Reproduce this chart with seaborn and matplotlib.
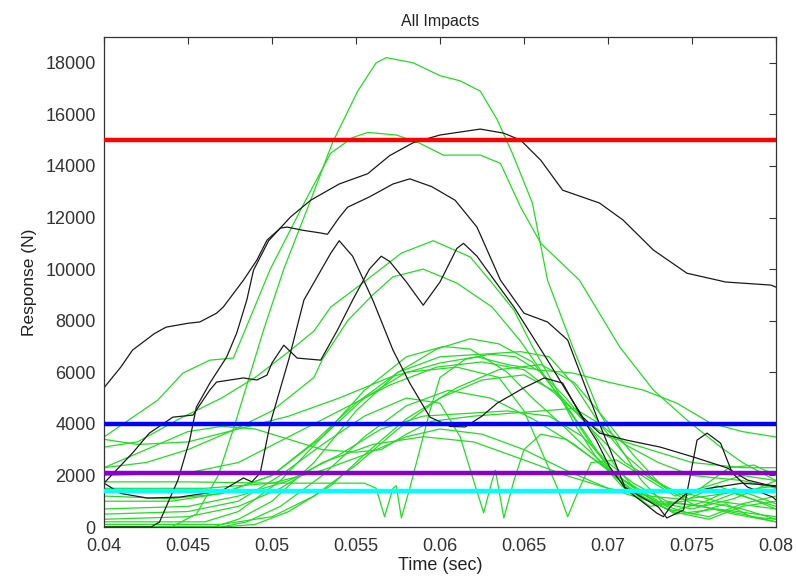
import matplotlib
matplotlib.use("Agg")
import matplotlib.pyplot as plt
import seaborn as sns
import pandas as pd

# ---------------- data ----------------
# black traces
b1_t = [0.040, 0.0428, 0.0433, 0.0444, 0.0451, 0.0455, 0.0463, 0.0473, 0.0479, 0.0485, 0.0489, 0.0498, 0.0511, 0.0523, 0.0540, 0.0557, 0.0570, 0.0584, 0.0600, 0.0624, 0.0638, 0.0648, 0.0660, 0.0673, 0.0695, 0.0709, 0.0727, 0.0747, 0.0770, 0.0797, 0.0800]
b1_y = [0, 0, 190, 1820, 3370, 4650, 5580, 6590, 7520, 8800, 9960, 11100, 12020, 12670, 13300, 13700, 14400, 14900, 15200, 15430, 15270, 15000, 14220, 13060, 12560, 11900, 10740, 9840, 9500, 9380, 9300]

b2_t = [0.040, 0.041, 0.0417, 0.043, 0.0437, 0.045, 0.0457, 0.0467, 0.0471, 0.0483, 0.0491, 0.0497, 0.0505, 0.0509, 0.0518, 0.0529, 0.0533, 0.0540, 0.0545, 0.0558, 0.0572, 0.0582, 0.0595, 0.0609, 0.0622, 0.0636, 0.0650, 0.0664, 0.0676, 0.0685, 0.0694, 0.0702, 0.0710, 0.0720, 0.0730, 0.0735, 0.0745, 0.0749, 0.0753, 0.0759, 0.0767, 0.0774, 0.0783, 0.0798, 0.0800]
b2_y = [5400, 6200, 6860, 7500, 7750, 7900, 7950, 8290, 8530, 9570, 10350, 11120, 11590, 11630, 11510, 11400, 11350, 12000, 12400, 12800, 13300, 13500, 13200, 12670, 11630, 9570, 8290, 7950, 7250, 5700, 4150, 2870, 1550, 1160, 775, 350, 660, 2000, 3370, 3640, 3250, 2090, 1550, 1160, 1050]

b3_t = [0.040, 0.0417, 0.0427, 0.0441, 0.0453, 0.0463, 0.0467, 0.0483, 0.0491, 0.0497, 0.0500, 0.0507, 0.0515, 0.0529, 0.0539, 0.0548, 0.0558, 0.0565, 0.0570, 0.0580, 0.0590, 0.0600, 0.0610, 0.0614, 0.0622, 0.0631, 0.0644, 0.0664, 0.0676, 0.0685, 0.0695, 0.0711, 0.0731, 0.0751, 0.0771, 0.0783, 0.0800]
b3_y = [1700, 2870, 3640, 4260, 4340, 5310, 5620, 5780, 5700, 5890, 6360, 7050, 6550, 6470, 7640, 8800, 10000, 10500, 10300, 9500, 8600, 9500, 10800, 11000, 10500, 9690, 8530, 6470, 5190, 4260, 3640, 3370, 3100, 2710, 2290, 1820, 1550]

b4_t = [0.040, 0.041, 0.0426, 0.0445, 0.0470, 0.0483, 0.0488, 0.0493, 0.0499, 0.0510, 0.0519, 0.0535, 0.0540, 0.0548, 0.0560, 0.0572, 0.0582, 0.0594, 0.0606, 0.0615, 0.0625, 0.0634, 0.0650, 0.0662, 0.0673, 0.0683, 0.0693, 0.0701, 0.0711, 0.0719, 0.0729, 0.0733, 0.0737, 0.0747, 0.0760, 0.0780, 0.0800]
b4_y = [1700, 1300, 1120, 1160, 1400, 1900, 1750, 2100, 4030, 6500, 8800, 10620, 11100, 10500, 8800, 6860, 5580, 4260, 3900, 3880, 4300, 4800, 5400, 5780, 5580, 4420, 3370, 2330, 1430, 1050, 540, 400, 775, 1320, 1500, 1700, 1600]

# green traces
g1_t = [0.040, 0.044, 0.0455, 0.0468, 0.0478, 0.0495, 0.0507, 0.0523, 0.0536, 0.0551, 0.0562, 0.0568, 0.0584, 0.0600, 0.0612, 0.0624, 0.0634, 0.0643, 0.0655, 0.0664, 0.0679, 0.0695, 0.0707, 0.0720, 0.0735, 0.0750, 0.0770, 0.0785, 0.0800]
g1_y = [0, 0, 500, 2000, 4000, 7640, 10000, 12670, 14900, 16900, 18000, 18200, 18000, 17500, 17300, 16900, 15800, 14500, 12560, 9570, 6980, 4420, 3100, 1800, 800, 500, 900, 400, 300]

g2_t = [0.040, 0.0432, 0.0447, 0.0463, 0.0477, 0.0484, 0.0499, 0.0520, 0.0535, 0.0548, 0.0557, 0.0574, 0.0588, 0.0602, 0.0624, 0.0636, 0.0648, 0.0660, 0.0683, 0.0707, 0.0727, 0.0747, 0.0767, 0.0780, 0.0800]
g2_y = [3490, 4920, 5970, 6470, 6550, 7640, 10000, 12670, 14500, 15100, 15300, 15200, 14880, 14420, 14420, 14100, 12400, 11000, 9570, 6980, 5310, 4150, 3100, 2500, 1800]

g3_t = [0.040, 0.042, 0.0445, 0.047, 0.049, 0.051, 0.0525, 0.0535, 0.0554, 0.0577, 0.0596, 0.0618, 0.0631, 0.0644, 0.0655, 0.0668, 0.0680, 0.0693, 0.0708, 0.0725, 0.0745, 0.0765, 0.0785, 0.0800]
g3_y = [3100, 3300, 4200, 5000, 5800, 6800, 7600, 8530, 9460, 10620, 11100, 10470, 9460, 8410, 7000, 5500, 4000, 2700, 1600, 800, 1000, 1600, 1100, 700]

g4_t = [0.040, 0.0425, 0.045, 0.0475, 0.050, 0.0525, 0.053, 0.0545, 0.056, 0.0572, 0.059, 0.061, 0.0631, 0.0648, 0.0665, 0.068, 0.0692, 0.0705, 0.072, 0.0735, 0.0755, 0.0772, 0.0787, 0.080]
g4_y = [2300, 2500, 3000, 3700, 4500, 5800, 6500, 8000, 9000, 9700, 10000, 9460, 8530, 7200, 5600, 4200, 3000, 2000, 1300, 800, 1500, 2300, 2400, 2000]

gw1_t = [0.040, 0.045, 0.050, 0.0555, 0.0562, 0.0567, 0.0572, 0.0574, 0.0577, 0.0582, 0.0588, 0.0594, 0.060, 0.0615, 0.063, 0.0645, 0.066, 0.0675, 0.069, 0.071, 0.0735, 0.0765, 0.080]
gw1_y = [1750, 1750, 1700, 1700, 1500, 400, 1500, 1600, 350, 1500, 3000, 4500, 5800, 6500, 6700, 6600, 6000, 5000, 3800, 2500, 1500, 1000, 700]

gw2_t = [0.040, 0.045, 0.048, 0.0505, 0.053, 0.0555, 0.058, 0.060, 0.0612, 0.062, 0.0626, 0.0631, 0.0633, 0.0638, 0.0644, 0.065, 0.066, 0.0675, 0.069, 0.071, 0.073, 0.0755, 0.0775, 0.080]
gw2_y = [500, 600, 1000, 2000, 3200, 4300, 5000, 4800, 3500, 1800, 550, 1800, 2200, 350, 1800, 3000, 3600, 3400, 2700, 1800, 1000, 800, 1300, 800]

gv_t = [0.040, 0.044, 0.047, 0.050, 0.053, 0.0555, 0.058, 0.061, 0.0635, 0.065, 0.066, 0.067, 0.0676, 0.0683, 0.069, 0.0705, 0.072, 0.074, 0.076, 0.078, 0.080]
gv_y = [1000, 1000, 1300, 2000, 3500, 5000, 6000, 6200, 5800, 4500, 3000, 1500, 400, 1500, 2500, 2600, 2000, 1200, 1600, 2000, 1800]

a1_t = [0.040, 0.046, 0.048, 0.0505, 0.053, 0.0555, 0.058, 0.0602, 0.0618, 0.064, 0.0655, 0.0672, 0.0688, 0.0705, 0.0725, 0.074, 0.0765, 0.080]
a1_y = [200, 200, 600, 1800, 3500, 5300, 6600, 7000, 6900, 6000, 5000, 4000, 3000, 2000, 1100, 500, 700, 400]

a2_t = [0.040, 0.0465, 0.048, 0.050, 0.0525, 0.055, 0.0575, 0.0598, 0.0618, 0.0635, 0.0655, 0.0672, 0.0688, 0.0703, 0.072, 0.0738, 0.0758, 0.0775, 0.080]
a2_y = [0, 0, 300, 1000, 2500, 4500, 6000, 6900, 7300, 7100, 6400, 5000, 3500, 2000, 1200, 600, 1000, 1500, 900]

a3_t = [0.040, 0.044, 0.047, 0.050, 0.0525, 0.055, 0.0575, 0.060, 0.0625, 0.0648, 0.0665, 0.068, 0.0695, 0.071, 0.0728, 0.0748, 0.077, 0.080]
a3_y = [1200, 1100, 1300, 2000, 3300, 4800, 6000, 6600, 6700, 6800, 6600, 5500, 4000, 2800, 1800, 1100, 1300, 1600]

a5_t = [0.040, 0.042, 0.045, 0.048, 0.051, 0.054, 0.057, 0.060, 0.0622, 0.064, 0.066, 0.0679, 0.070, 0.0721, 0.0741, 0.0761, 0.078, 0.080]
a5_y = [3400, 3200, 3300, 3800, 4300, 5000, 5800, 6360, 6600, 6300, 6080, 5970, 5620, 5310, 4800, 4030, 3700, 3490]

a6_t = [0.040, 0.045, 0.048, 0.051, 0.054, 0.057, 0.0598, 0.0625, 0.065, 0.0668, 0.0685, 0.070, 0.0725, 0.075, 0.078, 0.080]
a6_y = [2000, 2100, 2500, 3500, 4500, 5500, 6200, 6400, 6100, 5200, 4200, 3500, 3000, 2500, 2300, 2300]

a7_t = [0.040, 0.047, 0.0485, 0.0505, 0.053, 0.0555, 0.058, 0.0605, 0.063, 0.0655, 0.068, 0.070, 0.0718, 0.0735, 0.076, 0.078, 0.080]
a7_y = [0, 0, 200, 800, 2000, 3500, 4700, 5300, 5000, 4200, 3200, 2200, 1200, 700, 400, 900, 1200]

a8_t = [0.040, 0.045, 0.048, 0.051, 0.054, 0.0565, 0.059, 0.0615, 0.064, 0.0665, 0.0685, 0.070, 0.0715, 0.0735, 0.0755, 0.078, 0.080]
a8_y = [700, 800, 1200, 1800, 2800, 3800, 4300, 4400, 4500, 4300, 3500, 2500, 1700, 1000, 800, 500, 200]

a9_t = [0.040, 0.0425, 0.045, 0.047, 0.049, 0.051, 0.053, 0.055, 0.0565, 0.058, 0.0595, 0.062, 0.064, 0.066, 0.068, 0.0695, 0.071, 0.073, 0.075, 0.078, 0.080]
a9_y = [2300, 3000, 3700, 3900, 3800, 3400, 3000, 2900, 3000, 3600, 4100, 4300, 4400, 4500, 4600, 4000, 3200, 2500, 2000, 1800, 1500]

a10_t = [0.040, 0.046, 0.050, 0.053, 0.0555, 0.058, 0.060, 0.0625, 0.065, 0.0675, 0.070, 0.0725, 0.075, 0.0775, 0.080]
a10_y = [1500, 1500, 1700, 2200, 2800, 3500, 3800, 3600, 3000, 2200, 1500, 1000, 700, 1100, 1800]

a11_t = [0.040, 0.045, 0.048, 0.0505, 0.053, 0.056, 0.059, 0.062, 0.065, 0.0675, 0.070, 0.0725, 0.0755, 0.078, 0.080]
a11_y = [300, 400, 800, 1500, 2500, 3200, 3500, 3300, 2600, 2000, 1500, 1200, 1000, 700, 300]

a12_t = [0.040, 0.047, 0.050, 0.0525, 0.055, 0.0575, 0.060, 0.0625, 0.065, 0.067, 0.069, 0.0705, 0.072, 0.0738, 0.076, 0.078, 0.080]
a12_y = [100, 100, 400, 1200, 2400, 3800, 5000, 5700, 5900, 5200, 3800, 2300, 1200, 600, 300, 800, 1000]

a13_t = [0.040, 0.047, 0.049, 0.051, 0.0535, 0.0555, 0.058, 0.061, 0.0635, 0.066, 0.068, 0.0698, 0.0715, 0.0732, 0.075, 0.0775, 0.080]
a13_y = [0, 0, 100, 600, 1600, 2800, 4200, 5400, 6100, 6300, 5600, 4200, 2800, 1600, 900, 500, 200]

green_traces = [(g1_t, g1_y), (g2_t, g2_y), (g3_t, g3_y), (g4_t, g4_y),
                (gw1_t, gw1_y), (gw2_t, gw2_y), (gv_t, gv_y),
                (a1_t, a1_y), (a2_t, a2_y), (a3_t, a3_y), (a5_t, a5_y),
                (a6_t, a6_y), (a7_t, a7_y), (a8_t, a8_y), (a9_t, a9_y),
                (a10_t, a10_y), (a11_t, a11_y), (a12_t, a12_y), (a13_t, a13_y)]
black_traces = [(b1_t, b1_y), (b2_t, b2_y), (b3_t, b3_y), (b4_t, b4_y)]

thresholds = [15000, 4000, 2080, 1400]
threshold_colors = ["#ff0000", "#0000ff", "#8800cc", "#00ffff"]

x_ticks = [0.04, 0.045, 0.05, 0.055, 0.06, 0.065, 0.07, 0.075, 0.08]
x_tick_labels = ["0.04", "0.045", "0.05", "0.055", "0.06", "0.065", "0.07", "0.075", "0.08"]
y_ticks = [0, 2000, 4000, 6000, 8000, 10000, 12000, 14000, 16000, 18000]

# ---------------- build long table ----------------
rows = []
for i, (t, y) in enumerate(green_traces):
    for tt, yy in zip(t, y):
        rows.append({"time": tt, "force": yy, "trace": f"g{i}", "kind": "green"})
for i, (t, y) in enumerate(black_traces):
    for tt, yy in zip(t, y):
        rows.append({"time": tt, "force": yy, "trace": f"b{i}", "kind": "black"})
df = pd.DataFrame(rows)

# ---------------- plot ----------------
sns.set_style("white")
plt.rcParams["font.family"] = ["Liberation Sans", "DejaVu Sans"]
plt.rcParams["xtick.direction"] = "in"
plt.rcParams["ytick.direction"] = "in"

fig = plt.figure(figsize=(7.96, 5.79), dpi=100)
ax = fig.add_axes([104 / 796, 1 - 527 / 579, (776 - 104) / 796, (527 - 37) / 579])

sns.lineplot(data=df[df.kind == "green"], x="time", y="force", units="trace",
             estimator=None, sort=False, color="#22dd22", linewidth=0.9, ax=ax)
sns.lineplot(data=df[df.kind == "black"], x="time", y="force", units="trace",
             estimator=None, sort=False, color="#1a1a1a", linewidth=0.9, ax=ax)

for val, col in zip(thresholds, threshold_colors):
    ax.axhline(val, color=col, linewidth=3.2, zorder=5)

ax.set_xlim(0.04, 0.08)
ax.set_ylim(0, 19000)
ax.set_xticks(x_ticks)
ax.set_xticklabels(x_tick_labels)
ax.set_yticks(y_ticks)
ax.set_yticklabels([str(v) for v in y_ticks])
ax.tick_params(axis="both", which="both", direction="in", length=5, width=0.8,
               top=True, right=True, labelsize=13, colors="#333333")
ax.tick_params(axis="x", pad=8)
ax.tick_params(axis="y", pad=6)
for s in ax.spines.values():
    s.set_visible(True)
    s.set_color("#333333")
    s.set_linewidth(0.9)

ax.set_xlabel("Time (sec)", fontsize=13, color="#222222", labelpad=1)
ax.set_ylabel("Response (N)", fontsize=12.5, color="#222222", labelpad=6)
ax.set_title("All Impacts", fontsize=11.5, color="#222222", pad=8)

fig.savefig("out.png", dpi=100)
